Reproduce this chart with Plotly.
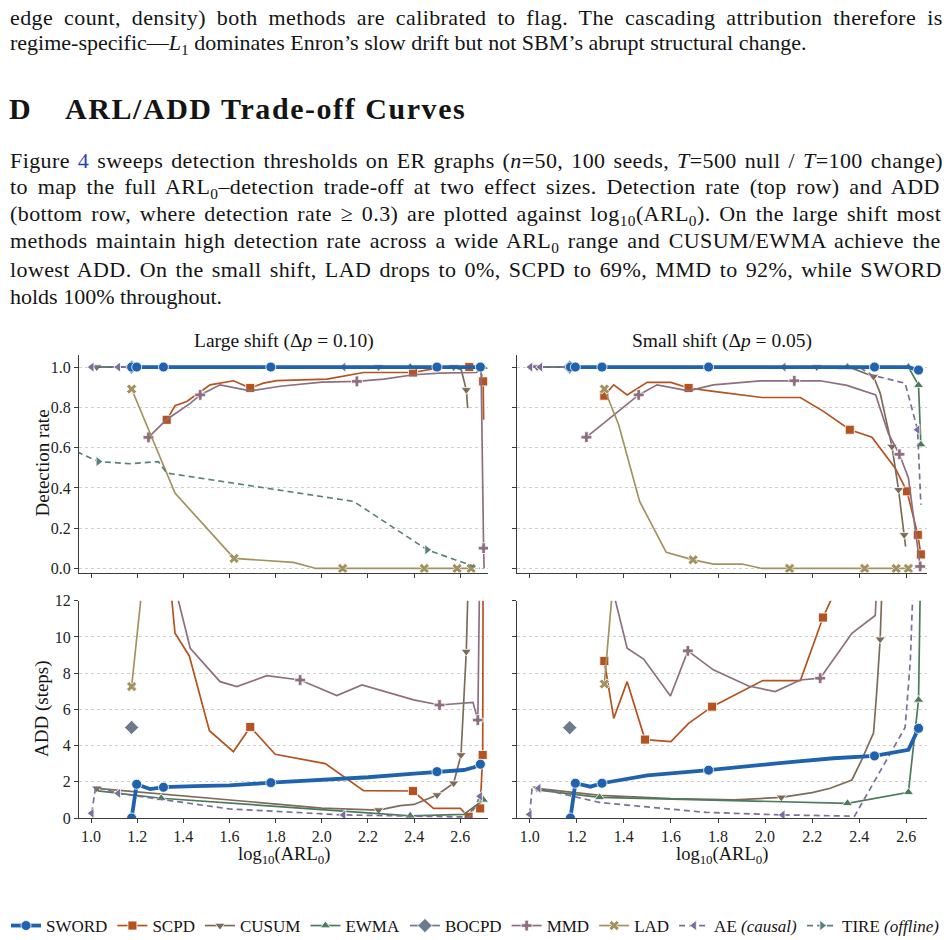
import glob
import os
import re
import struct

import plotly.graph_objects as go

# ------------------------------------------------------------------ data
LEGEND_ORDER = ["SWORD", "SCPD", "CUSUM", "EWMA", "BOCPD", "MMD", "LAD", "AE", "TIRE"]
LEGEND_NAMES = ["SWORD", "SCPD", "CUSUM", "EWMA", "BOCPD", "MMD", "LAD",
                "AE <i>(causal)</i>", "TIRE <i>(offline)</i>"]
X_TICKS = [1.0, 1.2, 1.4, 1.6, 1.8, 2.0, 2.2, 2.4, 2.6]
DET_TICKS = [0.0, 0.2, 0.4, 0.6, 0.8, 1.0]
ADD_TICKS = [0, 2, 4, 6, 8, 10, 12]

# each entry: (log10 ARL0 values, metric values, indices of points that carry a marker)
# ---- Large shift, detection rate
LD_SWORD = ([1.176, 1.198, 1.256, 1.314, 1.45, 1.6, 1.779, 2.0, 2.2, 2.4, 2.499, 2.615, 2.66, 2.687],
            [1.0, 1.0, 1.0, 1.0, 1.0, 1.0, 1.0, 1.0, 1.0, 1.0, 1.0, 1.0, 1.0, 1.0],
            [0, 1, 3, 6, 10, 13])
LD_SCPD = ([1.328, 1.364, 1.415, 1.516, 1.617, 1.69, 1.747, 1.805, 2.022, 2.181, 2.395, 2.499, 2.639, 2.686, 2.699, 2.701],
           [0.738, 0.808, 0.829, 0.912, 0.932, 0.896, 0.92, 0.933, 0.94, 0.973, 0.973, 0.995, 1.0, 0.99, 0.929, 0.738],
           [0, 5, 10, 12, 14])
LD_CUSUM = ([1.025, 1.6, 2.246, 2.499, 2.571, 2.604, 2.626, 2.632],
            [1.0, 1.0, 1.0, 1.0, 1.0, 0.987, 0.887, 0.796],
            [0, 2, 4, 6])
LD_EWMA = ([1.03, 1.304, 2.383, 2.615, 2.70],
           [1.0, 1.0, 1.0, 1.0, 1.0],
           [1, 2, 4])
LD_BOCPD = ([1.176], [1.0], [0])
LD_MMD = ([1.249, 1.328, 1.43, 1.473, 1.559, 1.69, 1.82, 2.0, 2.152, 2.268, 2.398, 2.51, 2.67, 2.69, 2.701, 2.703],
          [0.651, 0.74, 0.82, 0.862, 0.912, 0.882, 0.905, 0.925, 0.929, 0.94, 0.962, 0.97, 0.973, 0.99, 0.101, 0.0],
          [0, 3, 8, 14])
LD_LAD = ([1.176, 1.364, 1.62, 1.877, 1.975, 2.09, 2.444, 2.586, 2.647],
          [0.891, 0.374, 0.05, 0.03, 0.0, 0.0, 0.0, 0.0, 0.0],
          [0, 2, 5, 6, 7, 8])
LD_AE = ([1.003, 1.02, 1.118, 2.094, 2.64, 2.686],
         [1.0, 1.0, 1.0, 1.0, 1.0, 1.0],
         [0, 2, 3])
LD_TIRE = ([0.90, 1.032, 1.169, 1.292, 1.328, 2.138, 2.456, 2.684],
           [0.60, 0.531, 0.52, 0.531, 0.474, 0.333, 0.093, 0.0],
           [1, 6])

# ---- Small shift, detection rate
SD_SWORD = ([1.173, 1.194, 1.258, 1.307, 1.5, 1.76, 2.05, 2.29, 2.465, 2.609, 2.652],
            [1.0, 1.0, 1.0, 1.0, 1.0, 1.0, 1.0, 1.0, 1.0, 1.0, 0.985],
            [0, 1, 3, 5, 8, 10])
SD_SCPD = ([1.317, 1.357, 1.414, 1.499, 1.60, 1.675, 1.781, 1.987, 2.15, 2.248, 2.36, 2.454, 2.553, 2.603, 2.649, 2.662],
           [0.858, 0.912, 0.862, 0.924, 0.924, 0.896, 0.879, 0.849, 0.849, 0.78, 0.689, 0.652, 0.498, 0.383, 0.167, 0.07],
           [0, 5, 10, 13, 14, 15])
SD_CUSUM = ([1.031, 1.6, 2.22, 2.38, 2.461, 2.489, 2.539, 2.567, 2.591, 2.597],
            [1.0, 1.0, 1.0, 0.99, 0.953, 0.871, 0.606, 0.391, 0.167, 0.109],
            [0, 2, 4, 6, 7, 8])
SD_EWMA = ([1.03, 1.297, 2.35, 2.609, 2.652, 2.662],
           [1.0, 1.0, 1.0, 1.0, 0.91, 0.615],
           [1, 2, 3, 4, 5])
SD_BOCPD = ([1.17], [1.0], [0])
SD_MMD = ([1.241, 1.463, 1.541, 1.675, 1.78, 1.98, 2.124, 2.234, 2.348, 2.47, 2.524, 2.571, 2.609, 2.659],
          [0.652, 0.862, 0.912, 0.882, 0.912, 0.932, 0.932, 0.932, 0.909, 0.862, 0.67, 0.567, 0.449, 0.01],
          [0, 1, 6, 11, 13])
SD_LAD = ([1.317, 1.378, 1.467, 1.58, 1.694, 1.781, 1.902, 1.987, 2.104, 2.423, 2.557, 2.609],
          [0.891, 0.714, 0.333, 0.08, 0.043, 0.022, 0.022, 0.0, 0.0, 0.0, 0.0, 0.0],
          [0, 4, 8, 9, 10, 11])
SD_AE = ([1.003, 1.045, 2.079, 2.40, 2.454, 2.595, 2.648, 2.662],
         [1.0, 1.0, 1.0, 1.0, 0.96, 0.92, 0.689, 0.316],
         [0, 1, 2, 6])

# ---- Large shift, ADD (steps)
LA_SWORD = ([1.176, 1.198, 1.256, 1.314, 1.45, 1.6, 1.779, 2.0, 2.2, 2.4, 2.499, 2.615, 2.66, 2.687],
            [0.0, 1.86, 1.6, 1.70, 1.76, 1.8, 1.95, 2.1, 2.25, 2.45, 2.56, 2.65, 2.8, 2.97],
            [0, 1, 3, 6, 10, 13])
LA_SCPD = ([1.328, 1.364, 1.426, 1.513, 1.617, 1.69, 1.798, 2.015, 2.181, 2.395, 2.484, 2.6, 2.636, 2.655, 2.686, 2.697, 2.70],
           [15.0, 10.2, 8.95, 4.82, 3.66, 5.03, 3.52, 3.0, 1.51, 1.49, 0.53, 0.53, 0.07, 0.53, 0.53, 3.48, 20.0],
           [0, 5, 9, 12, 14, 15])
LA_CUSUM = ([1.025, 1.6, 2.0, 2.246, 2.34, 2.40, 2.499, 2.571, 2.603, 2.626, 2.636],
            [1.64, 1.0, 0.55, 0.44, 0.68, 0.75, 1.27, 1.92, 3.48, 9.19, 14.0],
            [0, 3, 6, 7, 8, 9])
LA_EWMA = ([1.03, 1.304, 2.383, 2.615, 2.70],
           [1.5, 1.09, 0.12, 0.2, 1.0],
           [1, 2, 4])
LA_BOCPD = ([1.176], [5.0], [0])
LA_MMD = ([1.249, 1.328, 1.43, 1.559, 1.632, 1.762, 1.906, 2.065, 2.174, 2.398, 2.51, 2.655, 2.676, 2.69],
          [30.0, 14.6, 9.37, 7.53, 7.26, 7.86, 7.62, 6.76, 7.35, 6.52, 6.24, 6.39, 5.41, 20.0],
          [0, 6, 10, 12])
LA_LAD = ([1.176, 1.364], [7.26, 30.0], [0])
LA_AE = ([1.003, 1.02, 1.118, 1.314, 1.6, 2.094, 2.4, 2.64, 2.686],
         [0.26, 1.73, 1.36, 1.0, 0.5, 0.17, 0.08, 0.05, 1.2],
         [0, 2, 5, 8])

# ---- Small shift, ADD (steps)
SA_SWORD = ([1.173, 1.194, 1.258, 1.307, 1.5, 1.76, 2.05, 2.29, 2.465, 2.609, 2.652],
            [0.0, 1.92, 1.73, 1.92, 2.35, 2.64, 3.02, 3.3, 3.43, 3.76, 4.95],
            [0, 1, 3, 5, 8, 10])
SA_SCPD = ([1.317, 1.357, 1.414, 1.49, 1.60, 1.675, 1.775, 1.99, 2.15, 2.246, 2.359],
           [8.67, 5.5, 7.53, 4.33, 4.22, 5.23, 6.15, 7.59, 7.59, 11.07, 14.3],
           [0, 3, 6, 9])
SA_CUSUM = ([1.031, 1.3, 1.6, 1.87, 2.069, 2.2, 2.277, 2.369, 2.41, 2.461, 2.475, 2.489, 2.50],
            [1.64, 1.25, 1.07, 1.0, 1.14, 1.4, 1.64, 2.1, 3.2, 4.7, 7.07, 9.87, 14.0],
            [0, 4, 11])
SA_EWMA = ([1.03, 1.297, 2.35, 2.609, 2.652, 2.662],
           [1.55, 1.14, 0.81, 1.42, 6.52, 15.0],
           [1, 2, 3, 4])
SA_BOCPD = ([1.17], [4.99], [0])
SA_MMD = ([1.241, 1.414, 1.484, 1.598, 1.672, 1.78, 1.93, 2.043, 2.15, 2.234, 2.319, 2.369, 2.468, 2.524],
          [18.5, 9.37, 8.78, 6.74, 9.23, 8.18, 7.29, 6.98, 7.62, 7.72, 9.28, 10.2, 11.18, 25.0],
          [0, 4, 9])
SA_LAD = ([1.317, 1.378, 1.467], [7.4, 20.0, 30.0], [0])
SA_AE = ([1.0, 1.01, 1.038, 1.3, 1.75, 2.075, 2.38, 2.595, 2.617, 2.635],
         [0.2, 1.64, 1.64, 0.85, 0.31, 0.17, 0.1, 5.0, 8.64, 15.0],
         [0, 2, 5])

PANEL_DATA = {
    ("x", "y"): {"SCPD": LD_SCPD, "CUSUM": LD_CUSUM, "EWMA": LD_EWMA, "BOCPD": LD_BOCPD, "MMD": LD_MMD,
                 "LAD": LD_LAD, "AE": LD_AE, "TIRE": LD_TIRE, "SWORD": LD_SWORD},
    ("x2", "y2"): {"SCPD": SD_SCPD, "CUSUM": SD_CUSUM, "EWMA": SD_EWMA, "BOCPD": SD_BOCPD, "MMD": SD_MMD,
                   "LAD": SD_LAD, "AE": SD_AE, "SWORD": SD_SWORD},
    ("x3", "y3"): {"SCPD": LA_SCPD, "CUSUM": LA_CUSUM, "EWMA": LA_EWMA, "BOCPD": LA_BOCPD, "MMD": LA_MMD,
                   "LAD": LA_LAD, "AE": LA_AE, "SWORD": LA_SWORD},
    ("x4", "y4"): {"SCPD": SA_SCPD, "CUSUM": SA_CUSUM, "EWMA": SA_EWMA, "BOCPD": SA_BOCPD, "MMD": SA_MMD,
                   "LAD": SA_LAD, "AE": SA_AE, "SWORD": SA_SWORD},
}

# ------------------------------------------------------------------ style
W, H = 950, 940
FONT = "Liberation Serif"
INK = "#141414"
AXC = "#3c3c3c"
STYLE = {
    "SWORD": dict(color="#1f62ad", symbol="circle", size=10, width=3.8, dash="solid"),
    "SCPD": dict(color="#b4531f", symbol="square", size=9, width=1.7, dash="solid"),
    "CUSUM": dict(color="#7d6b59", symbol="triangle-down", size=9, width=1.7, dash="solid"),
    "EWMA": dict(color="#4d7a5a", symbol="triangle-up", size=9, width=1.7, dash="solid"),
    "BOCPD": dict(color="#6b7a8c", symbol="diamond", size=11, width=1.7, dash="solid"),
    "MMD": dict(color="#8e6f80", symbol="cross", size=9, width=1.7, dash="solid"),
    "LAD": dict(color="#a3925f", symbol="x", size=9, width=1.7, dash="solid"),
    "AE": dict(color="#7a6e9a", symbol="triangle-left", size=9, width=1.7, dash="6px,4px"),
    "TIRE": dict(color="#5a807b", symbol="triangle-right", size=9, width=1.7, dash="6px,4px"),
}


# ------------------------------------------------------------------ text measurement (for justification)
def _find_font(fname):
    roots = ["/usr/share/fonts", "/usr/local/share/fonts", os.path.expanduser("~/.fonts")]
    for root in roots:
        for p in glob.glob(os.path.join(root, "**", fname), recursive=True):
            return p
    return None


def _advance_fn(path):
    data = open(path, "rb").read()
    ntab = struct.unpack(">H", data[4:6])[0]
    tabs = {}
    for i in range(ntab):
        tag, _, off, ln = struct.unpack(">4sIII", data[12 + 16 * i:28 + 16 * i])
        tabs[tag.decode("latin-1")] = off
    upm = struct.unpack(">H", data[tabs["head"] + 18:tabs["head"] + 20])[0]
    nhm = struct.unpack(">H", data[tabs["hhea"] + 34:tabs["hhea"] + 36])[0]
    hm = tabs["hmtx"]
    adv = [struct.unpack(">H", data[hm + 4 * i:hm + 4 * i + 2])[0] for i in range(nhm)]
    cm = tabs["cmap"]
    nsub = struct.unpack(">H", data[cm + 2:cm + 4])[0]
    sub = None
    for i in range(nsub):
        pid, eid, off = struct.unpack(">HHI", data[cm + 4 + 8 * i:cm + 12 + 8 * i])
        if pid == 3 and eid == 1 and struct.unpack(">H", data[cm + off:cm + off + 2])[0] == 4:
            sub = cm + off
    segx2 = struct.unpack(">H", data[sub + 6:sub + 8])[0]
    nseg = segx2 // 2
    ends = struct.unpack(">%dH" % nseg, data[sub + 14:sub + 14 + segx2])
    starts = struct.unpack(">%dH" % nseg, data[sub + 16 + segx2:sub + 16 + 2 * segx2])
    deltas = struct.unpack(">%dh" % nseg, data[sub + 16 + 2 * segx2:sub + 16 + 3 * segx2])
    rpos = sub + 16 + 3 * segx2
    roffs = struct.unpack(">%dH" % nseg, data[rpos:rpos + segx2])

    def gid(c):
        for i in range(nseg):
            if starts[i] <= c <= ends[i]:
                if roffs[i] == 0:
                    return (c + deltas[i]) & 0xFFFF
                addr = rpos + 2 * i + roffs[i] + 2 * (c - starts[i])
                g = struct.unpack(">H", data[addr:addr + 2])[0]
                return (g + deltas[i]) & 0xFFFF if g else 0
        return 0

    def width(s, size):
        return sum(adv[min(gid(ord(ch)), nhm - 1)] for ch in s) * size / upm

    return width


try:
    _REG = _advance_fn(_find_font("LiberationSerif-Regular.ttf"))
    _ITA = _advance_fn(_find_font("LiberationSerif-Italic.ttf"))
    _BLD = _advance_fn(_find_font("LiberationSerif-Bold.ttf"))
except Exception:
    _REG = _ITA = _BLD = None


def natural_width(markup, size, bold=False):
    """width of plotly rich text in px, plus counts of characters and spaces"""
    tot, nch, nsp = 0.0, 0, 0
    ital, subs = False, False
    for tok in re.split(r"(<[^>]+>)", markup):
        if not tok:
            continue
        if tok.startswith("<"):
            t = tok.lower()
            if t == "<i>":
                ital = True
            elif t == "</i>":
                ital = False
            elif t == "<sub>":
                subs = True
            elif t == "</sub>":
                subs = False
            continue
        fn = _BLD if bold else (_ITA if ital else _REG)
        tot += fn(tok, size * (0.7 if subs else 1.0))
        nch += len(tok)
        nsp += tok.count(" ")
    return tot, nch, nsp


def justify(markup, size, target, letter=0.4, bold=False):
    if _REG is None:
        return markup
    w, nch, nsp = natural_width(markup, size, bold)
    if nsp == 0:
        return markup
    ws = (target - w - letter * nch) / nsp
    return "<span style='letter-spacing:%.2fpx;word-spacing:%.2fpx'>%s</span>" % (letter, ws, markup)


def track(markup, size, target, bold=False):
    if _REG is None:
        return markup
    w, nch, _ = natural_width(markup, size, bold)
    return "<span style='letter-spacing:%.2fpx'>%s</span>" % ((target - w) / nch, markup)


def px_x(p):
    return p / W


def px_y(p):
    return 1 - p / H


fig = go.Figure()

for (xa, ya), series in PANEL_DATA.items():
    for name, (xs, ys, mk) in series.items():
        st = STYLE[name]
        if len(xs) > 1:
            fig.add_trace(go.Scatter(x=xs, y=ys, xaxis=xa, yaxis=ya, mode="lines",
                                     line=dict(color=st["color"], width=st["width"], dash=st["dash"]),
                                     showlegend=False, hoverinfo="skip"))
        fig.add_trace(go.Scatter(x=[xs[i] for i in mk], y=[ys[i] for i in mk], xaxis=xa, yaxis=ya,
                                 mode="markers",
                                 marker=dict(color=st["color"], symbol=st["symbol"], size=st["size"],
                                             line=dict(color="white", width=0.8)),
                                 showlegend=False, hoverinfo="skip"))

for name, label in zip(LEGEND_ORDER, LEGEND_NAMES):
    st = STYLE[name]
    fig.add_trace(go.Scatter(x=[None], y=[None], mode="lines+markers", name=label,
                             line=dict(color=st["color"], width=st["width"], dash=st["dash"]),
                             marker=dict(color=st["color"], symbol=st["symbol"], size=st["size"],
                                         line=dict(color="white", width=0.8))))

LEFT = [px_x(79), px_x(488)]
RIGHT = [px_x(517), px_x(927)]
TOP = [px_y(572.5), px_y(355)]
BOT = [px_y(818), px_y(600.7)]

common = dict(showline=True, linecolor=AXC, linewidth=1, ticks="outside", ticklen=4, tickwidth=1,
              tickcolor=AXC, zeroline=False, tickfont=dict(family=FONT, size=16, color="#222"))
xcommon = dict(common, showgrid=False, tickvals=X_TICKS, ticktext=[f"{v:.1f}" for v in X_TICKS])
ycommon = dict(common, showgrid=True, gridcolor="#cfcfcf", gridwidth=0.8, griddash="dot")

fig.update_layout(
    xaxis=dict(xcommon, domain=LEFT, anchor="y", range=[0.948, 2.72], showticklabels=False),
    yaxis=dict(ycommon, domain=TOP, anchor="x", range=[-0.02, 1.06], tickvals=DET_TICKS,
               ticktext=[f"{v:.1f}" for v in DET_TICKS]),
    xaxis2=dict(xcommon, domain=RIGHT, anchor="y2", range=[0.946, 2.688], showticklabels=False),
    yaxis2=dict(ycommon, domain=TOP, anchor="x2", range=[-0.02, 1.06], tickvals=DET_TICKS,
                showticklabels=False),
    xaxis3=dict(xcommon, domain=LEFT, anchor="y3", range=[0.948, 2.72]),
    yaxis3=dict(ycommon, domain=BOT, anchor="x3", range=[0, 12], tickvals=ADD_TICKS,
                ticktext=[str(v) for v in ADD_TICKS]),
    xaxis4=dict(xcommon, domain=RIGHT, anchor="y4", range=[0.946, 2.688]),
    yaxis4=dict(ycommon, domain=BOT, anchor="x4", range=[0, 12], tickvals=ADD_TICKS,
                showticklabels=False),
)

BODY = 22
RIGHT_EDGE = 941
annotations = []


def text(t, x, y, size=BODY, bold=False, xanchor="left", angle=0):
    if bold:
        t = "<b>" + t + "</b>"
    annotations.append(dict(text=t, x=px_x(x), y=px_y(y), xref="paper", yref="paper",
                            xanchor=xanchor, yanchor="middle", align="left", showarrow=False,
                            textangle=angle, font=dict(family=FONT, size=size, color=INK)))


def body(t, y, full=True):
    text(justify(t, BODY, RIGHT_EDGE - 8) if full else t, 8, y)


body("edge count, density) both methods are calibrated to flag. The cascading attribution therefore is", 18)
body("regime-specific—<i>L</i><sub>1</sub> dominates Enron’s slow drift but not SBM’s abrupt structural change.",
     44, full=False)
text("D", 7, 109, size=30, bold=True)
text(track("ARL/ADD Trade-off Curves", 30, 468 - 64, bold=True), 63, 109, size=30, bold=True)
body("Figure <span style='color:#2b3fb5'>4</span> sweeps detection thresholds on ER graphs (<i>n</i>=50, 100 seeds, "
     "<i>T</i>=500 null / <i>T</i>=100 change)", 160)
body("to map the full ARL<sub>0</sub>–detection trade-off at two effect sizes. Detection rate (top row) and ADD", 188)
body("(bottom row, where detection rate ≥ 0.3) are plotted against log<sub>10</sub>(ARL<sub>0</sub>). "
     "On the large shift most", 215)
body("methods maintain high detection rate across a wide ARL<sub>0</sub> range and CUSUM/EWMA achieve the", 242)
body("lowest ADD. On the small shift, LAD drops to 0%, SCPD to 69%, MMD to 92%, while SWORD", 269)
body("holds 100% throughout.", 296, full=False)
# panel labels
text("Large shift (Δ<i>p</i> = 0.10)", 283.5, 341, size=19.5, xanchor="center")
text("Small shift (Δ<i>p</i> = 0.05)", 722, 341, size=19.5, xanchor="center")
text("Detection rate", 42, 463.5, size=19, xanchor="center", angle=-90)
text("ADD (steps)", 42, 709, size=19, xanchor="center", angle=-90)
text("log<sub>10</sub>(ARL<sub>0</sub>)", 283.5, 855, size=18.5, xanchor="center")
text("log<sub>10</sub>(ARL<sub>0</sub>)", 722, 855, size=18.5, xanchor="center")

fig.update_layout(
    annotations=annotations,
    width=W, height=H, margin=dict(l=0, r=0, t=0, b=0, autoexpand=False),
    paper_bgcolor="white", plot_bgcolor="white",
    font=dict(family=FONT, size=16, color=INK),
    legend=dict(orientation="h", x=px_x(6), xanchor="left", y=-4 / H, yanchor="bottom",
                font=dict(family=FONT, size=17, color=INK), bgcolor="rgba(0,0,0,0)",
                itemwidth=30, tracegroupgap=0),
    hovermode=False,
)

fig.write_html("out.html")
